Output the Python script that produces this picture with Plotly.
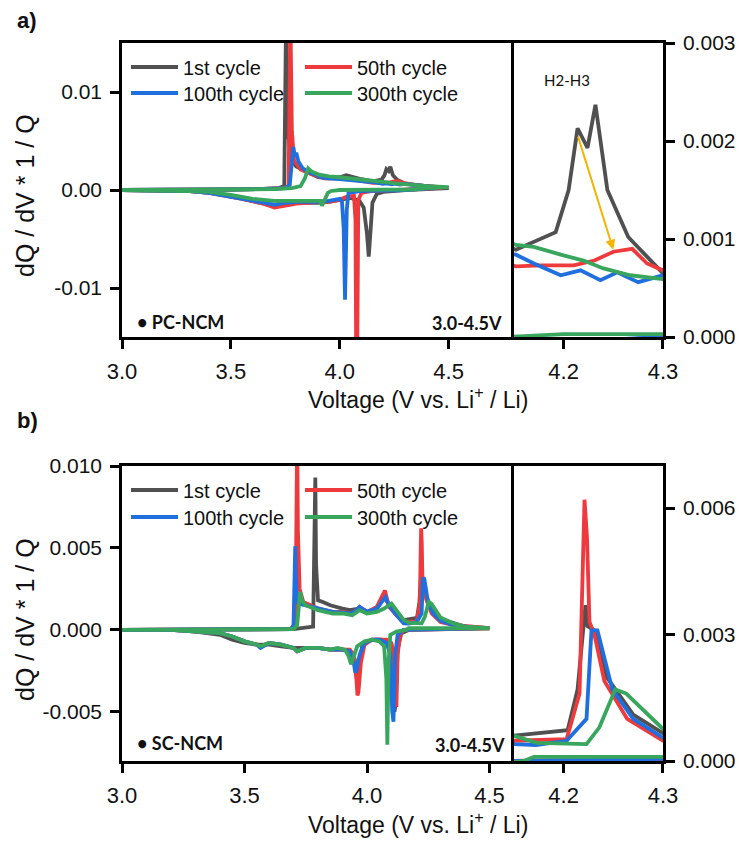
import plotly.graph_objects as go

# ---------------- Panel a) PC-NCM : voltage (V) and dQ/dV*1/Q (charge up, then discharge down)
a_v_1st = [3.00, 3.30, 3.50, 3.65, 3.72, 3.745, 3.750, 3.753, 3.76, 3.78, 3.80, 3.85, 3.90, 3.95, 4.00, 4.03, 4.06, 4.10,
           4.152, 4.192, 4.205, 4.214, 4.224, 4.232, 4.244, 4.265, 4.299, 4.35, 4.40, 4.45, 4.50,
           4.50, 4.40, 4.30, 4.20, 4.17, 4.15, 4.14, 4.133, 4.125, 4.11, 4.09, 4.07, 4.05, 4.00, 3.95, 3.90, 3.85,
           3.80, 3.75, 3.70, 3.65, 3.60, 3.55, 3.50, 3.40, 3.30, 3.00]
a_q_1st = [0.0, 0.0, 0.00005, 0.0001, 0.0002, 0.0004, 0.0170, 0.0170, 0.0060, 0.0030, 0.0024, 0.0018, 0.0013, 0.0012, 0.0013, 0.0015, 0.0013, 0.0011,
           0.00089, 0.00107, 0.0015, 0.00213, 0.00193, 0.00237, 0.0015, 0.00102, 0.00066, 0.0005, 0.0004, 0.0003, 0.0002,
           0.0002, 0.0001, 0.0, -0.0002, -0.0004, -0.0013, -0.0040, -0.0068, -0.0045, -0.0018, -0.0011, -0.0009, -0.0008, -0.0010, -0.0012, -0.0013, -0.0013,
           -0.0013, -0.0015, -0.0017, -0.0014, -0.0011, -0.0008, -0.0006, -0.0003, -0.0001, 0.0]

a_v_50th = [3.00, 3.30, 3.50, 3.65, 3.74, 3.765, 3.770, 3.773, 3.78, 3.79, 3.82, 3.87, 3.93, 4.00, 4.05, 4.10,
            4.152, 4.177, 4.21, 4.231, 4.25, 4.269, 4.284, 4.30, 4.35, 4.40, 4.46,
            4.46, 4.30, 4.15, 4.10, 4.085, 4.079, 4.076, 4.072, 4.065, 4.03, 4.00, 3.95, 3.90, 3.85, 3.80, 3.75, 3.70,
            3.65, 3.60, 3.55, 3.50, 3.40, 3.30, 3.00]
a_q_50th = [0.0, 0.0, 0.00005, 0.0001, 0.0002, 0.0004, 0.0180, 0.0180, 0.0060, 0.0030, 0.0021, 0.0016, 0.0012, 0.0012, 0.0011, 0.0009,
            0.00072, 0.00073, 0.00073, 0.00078, 0.00087, 0.0009, 0.00075, 0.00068, 0.0005, 0.0004, 0.0003,
            0.0002, 0.0, -0.0001, -0.0003, -0.0010, -0.0200, -0.0200, -0.0030, -0.0006, -0.0007, -0.0010, -0.0012, -0.0012, -0.0013, -0.0014, -0.0016, -0.0018,
            -0.0014, -0.0011, -0.0009, -0.0007, -0.0003, -0.0001, 0.0]

a_v_100th = [3.00, 3.30, 3.50, 3.65, 3.75, 3.770, 3.780, 3.787, 3.793, 3.800, 3.810, 3.83, 3.87, 3.93, 4.00, 4.05, 4.10,
             4.152, 4.17, 4.197, 4.217, 4.237, 4.254, 4.275, 4.30, 4.35, 4.43,
             4.43, 4.30, 4.10, 4.04, 4.032, 4.027, 4.024, 4.018, 4.01, 4.00, 3.95, 3.90, 3.85, 3.80, 3.75, 3.70,
             3.65, 3.60, 3.55, 3.50, 3.40, 3.30, 3.00]
a_q_100th = [0.0, 0.0, 0.00005, 0.0001, 0.0002, 0.0005, 0.0025, 0.0044, 0.0034, 0.0038, 0.0029, 0.0022, 0.0017, 0.0012, 0.0011, 0.0010, 0.0009,
             0.00084, 0.00075, 0.00063, 0.00068, 0.00058, 0.00066, 0.00056, 0.00063, 0.0005, 0.0003,
             0.0002, 0.0, -0.0001, -0.0003, -0.0020, -0.0112, -0.0112, -0.0040, -0.0012, -0.0009, -0.0011, -0.0012, -0.0012, -0.0012, -0.0013, -0.0015,
             -0.0013, -0.0011, -0.0009, -0.0007, -0.0003, -0.0001, 0.0]

a_v_300th = [3.00, 3.30, 3.50, 3.70, 3.78, 3.82, 3.84, 3.855, 3.87, 3.90, 3.95, 4.00, 4.05, 4.10,
             4.152, 4.17, 4.197, 4.22, 4.24, 4.267, 4.30, 4.35, 4.40, 4.50,
             4.50, 4.40, 4.33, 4.20, 4.10, 4.00, 3.96, 3.945, 3.935, 3.925, 3.918, 3.91, 3.85, 3.80, 3.75, 3.70,
             3.65, 3.60, 3.55, 3.50, 3.40, 3.30, 3.00]
a_q_300th = [0.0, 0.0, 0.00005, 0.0001, 0.0002, 0.0004, 0.0012, 0.0022, 0.0019, 0.0016, 0.0014, 0.0013, 0.0012, 0.0011,
             0.00094, 0.00092, 0.00084, 0.00078, 0.0007, 0.00063, 0.00059, 0.0005, 0.0004, 0.0003,
             0.0003, 0.0002, 0.00003, 0.00003, 0.00003, 0.0, -0.0001, -0.0003, -0.0008, -0.0012, -0.0016, -0.0011, -0.0011, -0.0011, -0.0011, -0.0011,
             -0.0010, -0.0009, -0.0007, -0.0005, -0.0002, -0.0001, 0.0]

# ---------------- Panel b) SC-NCM
b_v_1st = [3.00, 3.30, 3.50, 3.70, 3.78, 3.786, 3.789, 3.792, 3.80, 3.82, 3.85, 3.90, 3.93, 3.97, 4.00, 4.04, 4.07, 4.10, 4.13, 4.15,
           4.204, 4.214, 4.222, 4.224, 4.231, 4.243, 4.27, 4.30, 4.40, 4.50,
           4.50, 4.30, 4.17, 4.14, 4.125, 4.117, 4.112, 4.105, 4.09, 4.06, 4.03, 4.00, 3.98, 3.965, 3.958, 3.95, 3.93, 3.90,
           3.85, 3.80, 3.75, 3.70, 3.65, 3.60, 3.55, 3.50, 3.45, 3.40, 3.30, 3.20, 3.00]
b_q_1st = [0.0, 0.0, 0.0, 0.00005, 0.0002, 0.0050, 0.0093, 0.0040, 0.0018, 0.0017, 0.0015, 0.0013, 0.0012, 0.0013, 0.0011, 0.0013, 0.0020, 0.0013, 0.0008, 0.0006,
           0.00073, 0.0017, 0.0037, 0.0032, 0.0031, 0.0020, 0.0011, 0.00066, 0.0002, 0.0001,
           0.0001, 0.00005, 0.0, -0.0002, -0.0012, -0.0045, -0.0050, -0.0025, -0.0009, -0.0006, -0.0006, -0.0007, -0.0010, -0.0025, -0.0030, -0.0018, -0.0013, -0.0012,
           -0.0012, -0.0011, -0.0011, -0.0011, -0.0010, -0.0009, -0.0009, -0.0008, -0.0006, -0.0003, -0.0001, 0.0, 0.0]

b_v_50th = [3.00, 3.30, 3.50, 3.69, 3.708, 3.712, 3.715, 3.718, 3.725, 3.74, 3.80, 3.86, 3.90, 3.94, 3.97, 4.00, 4.04, 4.073, 4.09, 4.12, 4.15,
            4.203, 4.216, 4.219, 4.221, 4.2235, 4.226, 4.231, 4.241, 4.264, 4.30, 4.35, 4.50,
            4.50, 4.30, 4.15, 4.135, 4.125, 4.120, 4.115, 4.108, 4.10, 4.08, 4.05, 4.02, 3.99, 3.975, 3.965, 3.961, 3.957, 3.945, 3.93,
            3.90, 3.85, 3.80, 3.75, 3.715, 3.70, 3.65, 3.60, 3.565, 3.55, 3.50, 3.45, 3.40, 3.30, 3.20, 3.00]
b_q_50th = [0.0, 0.0, 0.0, 0.00005, 0.0003, 0.0060, 0.0120, 0.0060, 0.0025, 0.0017, 0.0013, 0.0011, 0.0011, 0.0010, 0.0014, 0.0011, 0.0014, 0.0024, 0.0014, 0.0009, 0.00048,
            0.00052, 0.0016, 0.0048, 0.0062, 0.0053, 0.0033, 0.0030, 0.0019, 0.0010, 0.00048, 0.0003, 0.0001,
            0.0001, 0.00005, 0.0, -0.0003, -0.0015, -0.0047, -0.0040, -0.0015, -0.0008, -0.0006, -0.0006, -0.0006, -0.0009, -0.0020, -0.0038, -0.0040, -0.0030, -0.0015, -0.0012,
            -0.0012, -0.0012, -0.0011, -0.0011, -0.0013, -0.0011, -0.0009, -0.0008, -0.0010, -0.0009, -0.0007, -0.0004, -0.0002, -0.0001, 0.0, 0.0]

b_v_100th = [3.00, 3.30, 3.50, 3.69, 3.700, 3.705, 3.707, 3.710, 3.715, 3.72, 3.75, 3.80, 3.86, 3.94, 3.97, 4.00, 4.04, 4.075, 4.09, 4.12, 4.15,
             4.172, 4.203, 4.223, 4.228, 4.234, 4.249, 4.27, 4.30, 4.35, 4.45,
             4.45, 4.30, 4.15, 4.125, 4.115, 4.108, 4.103, 4.095, 4.08, 4.05, 4.02, 3.99, 3.97, 3.958, 3.952, 3.946, 3.93,
             3.90, 3.85, 3.80, 3.75, 3.715, 3.70, 3.65, 3.60, 3.565, 3.55, 3.50, 3.45, 3.40, 3.30, 3.20, 3.00]
b_q_100th = [0.0, 0.0, 0.0, 0.00005, 0.0003, 0.0030, 0.0051, 0.0030, 0.0018, 0.0016, 0.0015, 0.0013, 0.0011, 0.0010, 0.0014, 0.0011, 0.0013, 0.0020, 0.0015, 0.0009, 0.0004,
             0.00038, 0.00048, 0.0010, 0.0031, 0.0031, 0.0017, 0.0010, 0.00055, 0.0003, 0.0001,
             0.0001, 0.00005, 0.0, -0.0003, -0.0015, -0.0056, -0.0050, -0.0015, -0.0008, -0.0006, -0.0006, -0.0008, -0.0015, -0.0024, -0.0026, -0.0020, -0.0013,
             -0.0012, -0.0012, -0.0011, -0.0011, -0.0013, -0.0011, -0.0009, -0.0008, -0.0011, -0.0009, -0.0007, -0.0004, -0.0002, -0.0001, 0.0, 0.0]

b_v_300th = [3.00, 3.30, 3.50, 3.70, 3.715, 3.722, 3.727, 3.735, 3.75, 3.80, 3.86, 3.90, 3.94, 3.97, 4.00, 4.04, 4.07, 4.10, 4.12, 4.15,
             4.173, 4.223, 4.236, 4.252, 4.263, 4.28, 4.30, 4.35, 4.40, 4.50,
             4.50, 4.30, 4.17, 4.16, 4.12, 4.095, 4.088, 4.083, 4.079, 4.07, 4.05, 4.02, 3.99, 3.96, 3.945, 3.935, 3.925, 3.91,
             3.88, 3.85, 3.80, 3.75, 3.715, 3.70, 3.65, 3.60, 3.565, 3.55, 3.50, 3.45, 3.40, 3.30, 3.20, 3.00]
b_q_300th = [0.0, 0.0, 0.0, 0.00005, 0.0003, 0.0015, 0.0023, 0.0018, 0.0015, 0.0012, 0.0010, 0.0010, 0.0009, 0.0012, 0.0010, 0.0011, 0.0013, 0.0016, 0.0012, 0.0006,
             0.00043, 0.0004, 0.0008, 0.0017, 0.0016, 0.0012, 0.00076, 0.0004, 0.0002, 0.0001,
             0.0001, 0.0001, 0.0001, 0.0, -0.0001, -0.0003, -0.0020, -0.0070, -0.0030, -0.0010, -0.0007, -0.0006, -0.0007, -0.0010, -0.0016, -0.0021, -0.0016, -0.0012,
             -0.0011, -0.0012, -0.0011, -0.0011, -0.0013, -0.0011, -0.0009, -0.0008, -0.0010, -0.0009, -0.0007, -0.0004, -0.0002, -0.0001, 0.0, 0.0]

cycle_names = ["1st cycle", "50th cycle", "100th cycle", "300th cycle"]
cycle_colors = ["#505050", "#ee3a3c", "#1f6fde", "#38a65c"]

a_main_xticks = [3.0, 3.5, 4.0, 4.5]
a_main_xtext = ["3.0", "3.5", "4.0", "4.5"]
a_main_yticks = [0.01, 0.0, -0.01]
a_main_ytext = ["0.01", "0.00", "-0.01"]
a_ins_yticks = [0.0, 0.001, 0.002, 0.003]
a_ins_ytext = ["0.000", "0.001", "0.002", "0.003"]
b_main_yticks = [0.010, 0.005, 0.0, -0.005]
b_main_ytext = ["0.010", "0.005", "0.000", "-0.005"]
b_ins_yticks = [0.0, 0.003, 0.006]
b_ins_ytext = ["0.000", "0.003", "0.006"]
ins_xticks = [4.2, 4.3]
ins_xtext = ["4.2", "4.3"]

W, H = 742, 841
FONT = "Liberation Sans, Arial, sans-serif"
BOLDF = "Lato, Carlito, sans-serif"

def px_x(p):
    return p / W

def px_y(p):
    return 1 - p / H

fig = go.Figure()

a_data = [(a_v_1st, a_q_1st), (a_v_50th, a_q_50th), (a_v_100th, a_q_100th), (a_v_300th, a_q_300th)]
b_data = [(b_v_1st, b_q_1st), (b_v_50th, b_q_50th), (b_v_100th, b_q_100th), (b_v_300th, b_q_300th)]

legend_ids_a = ["legend", "legend2", "legend3", "legend4"]
legend_ids_b = ["legend5", "legend6", "legend7", "legend8"]

LW = 3.8
for i, (v, q) in enumerate(a_data):
    fig.add_trace(go.Scatter(x=v, y=q, mode="lines", name=cycle_names[i],
                             line=dict(color=cycle_colors[i], width=LW),
                             xaxis="x", yaxis="y", legend=legend_ids_a[i]))
for i, (v, q) in enumerate(a_data):
    fig.add_trace(go.Scatter(x=v, y=q, mode="lines", name=cycle_names[i], showlegend=False,
                             line=dict(color=cycle_colors[i], width=LW),
                             xaxis="x2", yaxis="y2"))
for i, (v, q) in enumerate(b_data):
    fig.add_trace(go.Scatter(x=v, y=q, mode="lines", name=cycle_names[i],
                             line=dict(color=cycle_colors[i], width=LW),
                             xaxis="x3", yaxis="y3", legend=legend_ids_b[i]))
for i, (v, q) in enumerate(b_data):
    fig.add_trace(go.Scatter(x=v, y=q, mode="lines", name=cycle_names[i], showlegend=False,
                             line=dict(color=cycle_colors[i], width=LW),
                             xaxis="x4", yaxis="y4"))

main_dom = [px_x(122), px_x(514)]
ins_dom = [px_x(514), px_x(663)]
a_dom = [px_y(337), px_y(43)]
b_dom = [px_y(761), px_y(466)]

def ax(**kw):
    base = dict(showline=True, linecolor="black", linewidth=2.5, mirror=True,
                ticks="outside", ticklen=9, tickwidth=2.5, tickcolor="black",
                showgrid=False, zeroline=False, tickmode="array", automargin=False,
                ticklabelstandoff=4,
                tickfont=dict(family=FONT, size=21, color="#111"))
    base.update(kw)
    return base

xfont = dict(family=FONT, size=22, color="#111")
eps = 1e-8
fig.update_layout(
    template="none",
    xaxis=ax(domain=main_dom, anchor="y", range=[3.0 - 1e-4, 4.8], tickvals=a_main_xticks, ticktext=a_main_xtext, tickfont=xfont),
    yaxis=ax(domain=a_dom, anchor="x", mirror=False, range=[-0.015, 0.015], tickvals=a_main_yticks, ticktext=a_main_ytext),
    xaxis2=ax(domain=ins_dom, anchor="y2", range=[4.15, 4.3 + 1e-5], tickvals=ins_xticks, ticktext=ins_xtext, tickfont=xfont),
    yaxis2=ax(domain=a_dom, anchor="x2", side="right", range=[-eps, 0.003 + eps], tickvals=a_ins_yticks, ticktext=a_ins_ytext),
    xaxis3=ax(domain=main_dom, anchor="y3", range=[3.0 - 1e-4, 4.6], tickvals=a_main_xticks, ticktext=a_main_xtext, tickfont=xfont),
    yaxis3=ax(domain=b_dom, anchor="x3", mirror=False, range=[-0.008, 0.010 + eps], tickvals=b_main_yticks, ticktext=b_main_ytext),
    xaxis4=ax(domain=ins_dom, anchor="y4", range=[4.15, 4.3 + 1e-5], tickvals=ins_xticks, ticktext=ins_xtext, tickfont=xfont),
    yaxis4=ax(domain=b_dom, anchor="x4", side="right", range=[-eps, 0.007], tickvals=b_ins_yticks, ticktext=b_ins_ytext),
)

# legends: two columns x two rows per panel
leg_cols = [126, 300]
leg_rows_a = [67, 93]
leg_rows_b = [490, 517]
positions = [(0, 0), (1, 0), (0, 1), (1, 1)]
legends = {}
for ids, rows in ((legend_ids_a, leg_rows_a), (legend_ids_b, leg_rows_b)):
    for lid, (c, r) in zip(ids, positions):
        legends[lid] = dict(x=px_x(leg_cols[c]), y=px_y(rows[r]), xanchor="left", yanchor="middle",
                            bgcolor="rgba(0,0,0,0)", borderwidth=0, itemwidth=47,
                            font=dict(family=FONT, size=20, color="#111"))
fig.update_layout(**legends)

def note(text, x, y, size, family=FONT, xanchor="center", **kw):
    d = dict(text=text, x=px_x(x), y=px_y(y), xref="paper", yref="paper", showarrow=False,
             xanchor=xanchor, yanchor="middle", font=dict(family=family, size=size, color="#111"))
    d.update(kw)
    return d

ann = []
ann.append(note("<b>a)</b>", 27, 20, 22))
ann.append(note("<b>b)</b>", 27, 420, 22))
for yy in (398, 823):
    ann.append(note("Voltage (V vs. Li<sup>+</sup> / Li)", 418, yy, 23))
for yy in (196, 620):
    ann.append(note("dQ / dV * 1 / Q", 25, yy, 25, textangle=-90))
ann.append(note("<b>• PC-NCM</b>", 135, 322, 18, family=BOLDF, xanchor="left"))
ann.append(note("<b>3.0-4.5V</b>", 504, 323, 18, family=BOLDF, xanchor="right"))
ann.append(note("<b>• SC-NCM</b>", 135, 743, 18, family=BOLDF, xanchor="left"))
ann.append(note("<b>3.0-4.5V</b>", 507, 745, 18, family=BOLDF, xanchor="right"))
ann.append(dict(text="H2-H3", x=4.203, y=0.00262, xref="x2", yref="y2", showarrow=False,
                xanchor="center", yanchor="middle",
                font=dict(family="Lato, sans-serif", size=15, color="#111")))
ann.append(dict(text="", x=4.25, y=0.00089, ax=4.214, ay=0.00206, xref="x2", yref="y2", axref="x2", ayref="y2",
                showarrow=True, arrowhead=2, arrowsize=1, arrowwidth=2, arrowcolor="#f5b400", standoff=0))
fig.update_layout(annotations=ann)

fig.update_layout(width=W, height=H, autosize=False, margin=dict(l=0, r=0, t=0, b=0, pad=0),
                  paper_bgcolor="white", plot_bgcolor="white")

fig.write_html("out.html", config={"displayModeBar": False},
               post_script="document.body.style.margin='0px';document.body.style.overflow='hidden';")
